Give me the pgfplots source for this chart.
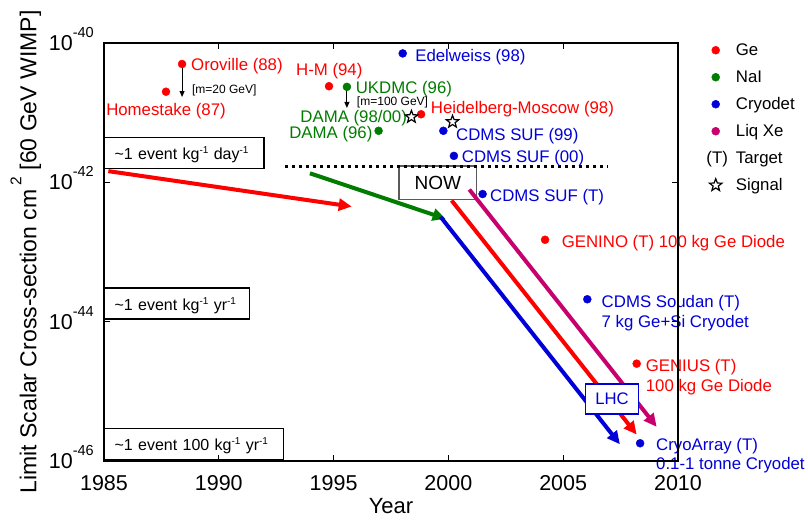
\documentclass[border=0pt]{standalone}
\usepackage{fontspec}
\setmainfont{Liberation Sans}
\usepackage{pgfplots}
\pgfplotsset{compat=1.18}
\usetikzlibrary{arrows.meta}

\definecolor{cRed}{RGB}{255,0,0}
\definecolor{cGreen}{RGB}{0,125,0}
\definecolor{cBlue}{RGB}{0,0,215}
\definecolor{cMag}{RGB}{200,0,110}
\definecolor{cGray}{RGB}{90,90,90}

\newcommand\af{\fontsize{16.8}{19}\selectfont}
\newcommand\bxf{\fontsize{16}{18}\selectfont}
\newcommand\sm{\fontsize{12}{14}\selectfont}
\newcommand\sups[1]{\raisebox{6pt}{\fontsize{10}{10}\selectfont #1}}
\newcommand\tl[1]{10\smash{\raisebox{13pt}{\fontsize{14.5}{14.5}\selectfont #1}}}

\pgfdeclareplotmark{ostar}{%
  \pgfpathmoveto{\pgfpointpolar{90}{\pgfplotmarksize}}%
  \pgfpathlineto{\pgfpointpolar{126}{0.42\pgfplotmarksize}}%
  \pgfpathlineto{\pgfpointpolar{162}{\pgfplotmarksize}}%
  \pgfpathlineto{\pgfpointpolar{198}{0.42\pgfplotmarksize}}%
  \pgfpathlineto{\pgfpointpolar{234}{\pgfplotmarksize}}%
  \pgfpathlineto{\pgfpointpolar{270}{0.42\pgfplotmarksize}}%
  \pgfpathlineto{\pgfpointpolar{306}{\pgfplotmarksize}}%
  \pgfpathlineto{\pgfpointpolar{342}{0.42\pgfplotmarksize}}%
  \pgfpathlineto{\pgfpointpolar{18}{\pgfplotmarksize}}%
  \pgfpathlineto{\pgfpointpolar{54}{0.42\pgfplotmarksize}}%
  \pgfpathclose
  \pgfusepathqstroke
}

\tikzset{
  lab/.style={anchor=base west, inner sep=0pt, font=\af},
  labe/.style={anchor=base east, inner sep=0pt, font=\af},
  evbox/.style={draw=black, line width=1.2pt, fill=white, anchor=west, font=\bxf,
    inner xsep=10pt, inner ysep=0pt, minimum height=31pt, text height=15pt, text depth=2pt, align=left},
  bigarrow/.style={line width=4pt, -{Triangle[length=13pt,width=12pt]}},
  smallarrow/.style={black, line width=1pt, -{Triangle[length=6pt,width=5pt]}}
}

\begin{document}
\begin{tikzpicture}
\useasboundingbox (-104pt,-59pt) rectangle (704pt,461pt);
\begin{axis}[
  at={(0,0)}, anchor=south west,
  scale only axis, width=574pt, height=418pt,
  xmin=1985, xmax=2010, ymode=log, ymin=1e-46, ymax=1e-40,
  xtick={1985,1990,1995,2000,2005,2010},
  xticklabels={1985,1990,1995,2000,2005,2010},
  ytick={1e-46,1e-44,1e-42,1e-40},
  yticklabels={\tl{-46},\tl{-44},\tl{-42},\tl{-40}},
  yminorticks=false, xminorticks=false,
  tick align=inside, tick pos=both, major tick length=6pt,
  axis line style={line width=1.3pt},
  every tick/.style={black, line width=1pt},
  xticklabel style={font=\fontsize{21.5}{21.5}\selectfont, inner sep=0pt, anchor=north, yshift=-14pt},
  yticklabel style={font=\fontsize{21.5}{21.5}\selectfont, inner sep=0pt, anchor=east, xshift=-10pt},
  xlabel={Year},
  xlabel style={font=\fontsize{22}{22}\selectfont, at={(rel axis cs:0.5,-0.1244)}, anchor=base, inner sep=0pt},
  ylabel={Limit Scalar Cross-section cm\hspace{4pt}\smash{\raisebox{15pt}{\fontsize{15.5}{15.5}\selectfont 2}} [60 GeV WIMP]},
  ylabel style={font=\fontsize{23}{23}\selectfont, at={(rel axis cs:-0.1176,0.5)}, anchor=base, inner sep=0pt},
  clip=false, axis on top,
  legend cell align=left,
  legend style={draw=none, fill=none, at={(rel axis cs:1.0505,1.0048)}, anchor=north west,
    font=\af, row sep=9pt, column sep=13pt, inner sep=0pt,
    nodes={inner sep=1pt, text height=13.5pt, text depth=2.5pt}},
]
% legend
\addlegendimage{only marks, mark=*, mark size=4pt, cRed}
\addlegendentry{Ge}
\addlegendimage{only marks, mark=*, mark size=4pt, cGreen}
\addlegendentry{NaI}
\addlegendimage{only marks, mark=*, mark size=4pt, cBlue}
\addlegendentry{Cryodet}
\addlegendimage{only marks, mark=*, mark size=4pt, cMag}
\addlegendentry{Liq Xe}
\addlegendimage{legend image code/.code={}}
\addlegendentry{\llap{(T)\hspace{8pt}}Target}
\addlegendimage{only marks, mark=ostar, mark size=6.5pt, black, line width=1.2pt}
\addlegendentry{Signal}

% NOW box (below arrows)
\node[draw=cGray, line width=1.3pt, fill=white, minimum width=77.7pt, minimum height=33.3pt,
  inner sep=0pt, font=\fontsize{19}{19}\selectfont] at (axis cs:1999.54,9.9e-43) {NOW};

% dotted "now" line
\addplot[forget plot, black, line width=3.5pt, dash pattern=on 3.5pt off 3.5pt]
  coordinates {(1992.88,1.68e-42) (2006.95,1.68e-42)};

% projection arrows
\addplot[forget plot, cRed, bigarrow] coordinates {(1985.19,1.45e-42) (1995.79,4.5e-43)};
\addplot[forget plot, cGreen, bigarrow] coordinates {(1993.97,1.35e-42) (1999.88,3.0e-43)};
\addplot[forget plot, cBlue, bigarrow] coordinates {(1999.66,3.2e-43) (2007.47,1.74e-46)};
\addplot[forget plot, cRed, bigarrow] coordinates {(2000.14,5.5e-43) (2008.20,2.4e-46)};
\addplot[forget plot, cMag, bigarrow] coordinates {(2000.91,7.9e-43) (2009.07,3.1e-46)};

% LHC box
\node[draw=cBlue, line width=1.3pt, fill=white, minimum width=52.6pt, minimum height=30pt,
  inner sep=0pt, text=cBlue, font=\fontsize{16.7}{16.7}\selectfont] at (axis cs:2007.125,7.76e-46) {LHC};

% mass arrows
\addplot[forget plot, smallarrow] coordinates {(1988.40,4.38e-41) (1988.40,1.68e-41)};
\addplot[forget plot, smallarrow] coordinates {(1995.58,2.26e-41) (1995.58,1.17e-41)};

% experiments
\addplot[forget plot, only marks, mark=*, mark size=4pt, cRed] coordinates {
  (1988.40,5.0e-41) (1987.70,2.0e-41) (1994.80,2.4e-41) (1998.81,9.5e-42)
  (2004.21,1.5e-43) (2008.20,2.5e-45)};
\addplot[forget plot, only marks, mark=*, mark size=4pt, cGreen] coordinates {
  (1995.58,2.35e-41) (1996.96,5.5e-42)};
\addplot[forget plot, only marks, mark=*, mark size=4pt, cBlue] coordinates {
  (1998.01,7.1e-41) (1999.78,5.5e-42) (2000.24,2.4e-42) (2001.49,6.8e-43)
  (2006.05,2.1e-44) (2008.35,1.8e-46)};
\addplot[forget plot, only marks, mark=ostar, mark size=6.5pt, black, line width=1.2pt] coordinates {
  (1998.39,8.7e-42) (2000.18,7.4e-42)};

% event-rate boxes
\node[evbox, text width=139.4pt] at (axis cs:1985,2.65e-42) {\textasciitilde1 event kg\sups{-1} day\sups{-1}};
\node[evbox, text width=125pt] at (axis cs:1985,1.82e-44) {\textasciitilde1 event kg\sups{-1} yr\sups{-1}};
\node[evbox, text width=158.7pt] at (axis cs:1985,1.77e-46) {\textasciitilde1 event 100 kg\sups{-1} yr\sups{-1}};

% labels
\node[lab, text=cRed] at (axis cs:1988.79,4.10e-41) {Oroville (88)};
\node[lab, text=cRed] at (axis cs:1985.09,9.26e-42) {Homestake (87)};
\node[lab, font=\sm] at (axis cs:1988.83,1.91e-41) {[m=20 GeV]};
\node[lab, text=cRed] at (axis cs:1993.36,3.47e-41) {H-M (94)};
\node[lab, text=cGreen] at (axis cs:1995.96,1.90e-41) {UKDMC (96)};
\node[lab, font=\sm] at (axis cs:1996.01,1.27e-41) {[m=100 GeV]};
\node[labe, text=cGreen] at (axis cs:1998.20,7.18e-42) {DAMA (98/00)};
\node[labe, text=cGreen] at (axis cs:1996.70,4.29e-42) {DAMA (96)};
\node[lab, text=cRed] at (axis cs:1999.23,9.8e-42) {Heidelberg-Moscow (98)};
\node[lab, text=cBlue] at (axis cs:1998.55,5.40e-41) {Edelweiss (98)};
\node[lab, text=cBlue] at (axis cs:2000.33,3.96e-42) {CDMS SUF (99)};
\node[lab, text=cBlue] at (axis cs:2000.58,1.94e-42) {CDMS SUF (00)};
\node[lab, text=cBlue] at (axis cs:2001.81,5.40e-43) {CDMS SUF (T)};
\node[lab, text=cRed] at (axis cs:2004.93,1.17e-43) {GENINO (T) 100 kg Ge Diode};
\node[lab, text=cBlue] at (axis cs:2006.67,1.61e-44) {CDMS Soudan (T)};
\node[lab, text=cBlue] at (axis cs:2006.67,8.30e-45) {7 kg Ge+Si Cryodet};
\node[lab, text=cRed] at (axis cs:2008.59,1.91e-45) {GENIUS (T)};
\node[lab, text=cRed] at (axis cs:2008.59,9.89e-46) {100 kg Ge Diode};
\node[lab, text=cBlue] at (axis cs:2009.04,1.44e-46) {CryoArray (T)};
\node[lab, text=cBlue] at (axis cs:2009.04,7.60e-47) {0.1-1 tonne Cryodet};
\end{axis}
\end{tikzpicture}
\end{document}
